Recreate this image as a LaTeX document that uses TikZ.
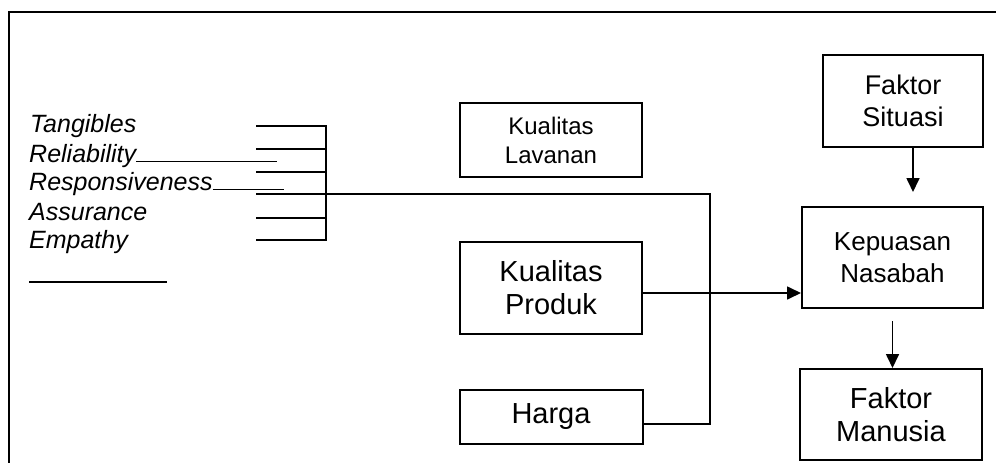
\documentclass[tikz,border=0pt]{standalone}
\usepackage{fontspec}
\setmainfont{Liberation Sans}
\usetikzlibrary{arrows.meta, positioning}

\begin{document}
\begin{tikzpicture}[
    x=1pt, y=-1pt,
    box/.style={
        rectangle, draw, line width=2pt,
        align=center, inner sep=0pt
    },
    item/.style={anchor=base west, inner sep=0pt, font=\itshape\fontsize{25}{29}\selectfont},
    wire/.style={line width=1.7pt},
    arr/.style={-{Triangle[length=14pt, width=13pt]}, line width=1.7pt},
    frame/.style={line width=2.5pt}
]
\useasboundingbox (0,0) rectangle (996,463);

% Frame (only top and left edges show)
\draw[frame] (996,12) -- (9,12) -- (9,463);

% Dimensions of service quality
\node[item] (tang) at (30,132) {Tangibles};
\node[item] (rel) at (29,162) {Reliability\rule{141pt}{1.5pt}};
\node[item] (resp) at (29,190) {Responsiveness\rule{71pt}{1.5pt}};
\node[item] (assu) at (29,220) {Assurance};
\node[item] (emp) at (29,248) {Empathy};
\node[item] (blank) at (29,283) {\rule{138pt}{1.8pt}};

% Bracket
\coordinate (brk) at (326,194);
\draw[wire] (256,126) -- (326,126) -- (326,240) -- (256,240);
\draw[wire] (256,149) -- (326,149);
\draw[wire] (256,172) -- (326,172);
\draw[wire] (256,194) -- (brk);
\draw[wire] (256,218) -- (326,218);

% Middle column
\node[box, minimum width=182pt, minimum height=74pt, font=\fontsize{24}{29}\selectfont] (lav) at (551,140) {Kualitas\\Lavanan};
\node[box, minimum width=182pt, minimum height=92pt, below=63pt of lav, font=\fontsize{29}{33}\selectfont] (prod) {Kualitas\\Produk};
\node[box, minimum width=183pt, minimum height=54pt, below=54pt of prod, font=\fontsize{29}{33}\selectfont] (harga) {Harga};

% Right column
\node[box, minimum width=181pt, minimum height=101pt, font=\fontsize{26}{32}\selectfont] (kep) at (892.5,257.5) {Kepuasan\\Nasabah};
\node[box, minimum width=160pt, minimum height=92pt, above=58pt of kep, xshift=10.5pt, font=\fontsize{27}{32}\selectfont] (sit) {Faktor\\Situasi};
\node[box, minimum width=182pt, minimum height=91pt, below=59pt of kep, xshift=-1.5pt, font=\fontsize{29}{33}\selectfont] (man) {Faktor\\Manusia};

% Arrows
\coordinate (jn) at (710,194);
\draw[wire] (brk) -- (jn) |- ([yshift=-7pt]harga.east);
\draw[arr] ([yshift=-5pt]prod.east) -- ([yshift=-5pt]prod.east -| kep.west);
\draw[arr, shorten >=14pt] ([xshift=10pt]sit.south) -- ([xshift=10pt]sit.south |- kep.north);
\draw[arr, shorten <=12pt] (kep.south) -- (kep.south |- man.north);

\end{tikzpicture}
\end{document}
